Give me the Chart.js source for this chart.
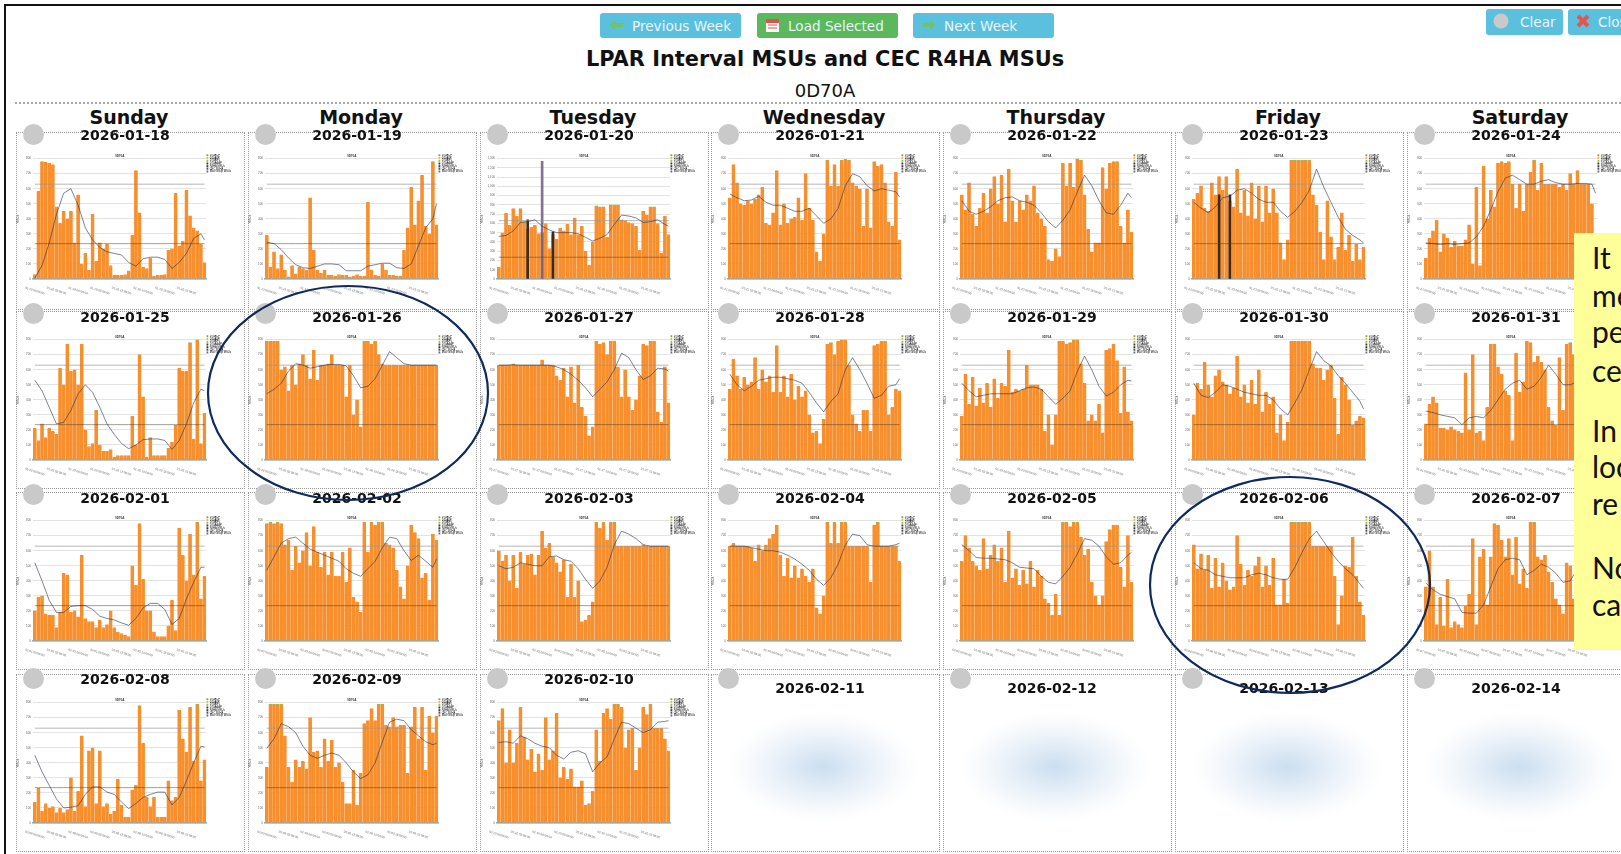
<!DOCTYPE html>
<html>
<head>
<meta charset="utf-8">
<title>LPAR Interval MSUs and CEC R4HA MSUs</title>
<script src="https://cdn.jsdelivr.net/npm/chart.js@4"></script>
<style>
  html, body { margin: 0; padding: 0; width: 1621px; height: 854px; overflow: hidden; background: #fff; font-family: "DejaVu Sans", sans-serif; color: #111; }
  .abs { position: absolute; }
  .frame-top { left: 5px; top: 4px; width: 1616px; height: 2px; background: #111; }
  .frame-left { left: 4px; top: 4px; width: 2px; height: 850px; background: #111; }
  .rule { left: 15px; top: 102px; width: 1606px; border-top: 2px dotted #aaa; }
  .btn { border-radius: 3px; color: #e8f6fb; font-size: 13.6px; height: 25px; line-height: 26px; white-space: nowrap; overflow: hidden; }
  .btn svg { position: absolute; left: 7px; top: 4px; }
  .blue { background: #5bc0de; }
  .green { background: #5cb85c; }
  .title { left: 0; width: 1650px; top: 47px; text-align: center; font-weight: bold; font-size: 20.9px; }
  .lpar { left: 0; width: 1650px; top: 80px; text-align: center; font-size: 18px; }
  .day { width: 232px; text-align: center; font-weight: bold; font-size: 19px; }
  .cell { width: 227px; height: 176px; border: 1px dotted #999; }
  .date { width: 232px; text-align: center; font-weight: bold; font-size: 14px; z-index: 2; }
  .dot { width: 21px; height: 21px; border-radius: 50%; background: #c9c9c9; z-index: 2; }
  .empty { width: 190px; height: 110px; background: radial-gradient(ellipse closest-side, #cbdef0 0%, #e3edf7 40%, #f6f9fc 75%, #fff 100%); }
  canvas { position: absolute; filter: blur(0.35px); }
  .note { left: 1574px; top: 233px; width: 100px; height: 417px; background: #ffff99; z-index: 4; font-family: Lato, sans-serif; font-size: 30px; color: #111; }
  .note div { position: absolute; left: 18px; }
  svg.rings { position: absolute; left: 0; top: 0; z-index: 3; }
</style>
</head>
<body>
<div class="abs frame-top"></div>
<div class="abs frame-left"></div>

<div class="abs btn blue" style="left:600px;top:13px;width:141px;padding-left:32px;box-sizing:border-box"><svg width="18" height="16"><path d="M2 8 L8 3 V6 H16 V10 H8 V13 Z" fill="#6fc36f"/></svg>Previous Week</div>
<div class="abs btn green" style="left:757px;top:13px;width:141px;padding-left:31px;box-sizing:border-box"><svg width="18" height="17"><rect x="2" y="2" width="13" height="13" fill="#fff"/><rect x="2" y="2" width="13" height="4" fill="#d9534f"/><path d="M4 8h9M4 11h9" stroke="#d9534f"/></svg>Load Selected</div>
<div class="abs btn blue" style="left:913px;top:13px;width:141px;padding-left:31px;box-sizing:border-box"><svg width="18" height="16"><path d="M16 8 L10 3 V6 H2 V10 H10 V13 Z" fill="#6fc36f"/></svg>Next Week</div>
<div class="abs btn blue" style="left:1486px;top:9px;width:77px;height:26px;padding-left:34px;box-sizing:border-box"><svg width="18" height="18"><circle cx="8" cy="8" r="7.5" fill="#c9c9c9"/></svg>Clear</div>
<div class="abs btn blue" style="left:1568px;top:9px;width:70px;height:26px;padding-left:30px;box-sizing:border-box"><svg width="18" height="18"><path d="M3 3 L13 13 M13 3 L3 13" stroke="#e2574c" stroke-width="4"/></svg>Close</div>

<div class="abs title">LPAR Interval MSUs and CEC R4HA MSUs</div>
<div class="abs lpar">0D70A</div>
<div class="abs rule"></div>

<div class="abs note" id="note"></div>
<svg class="rings" width="1621" height="854">
  <ellipse cx="348" cy="393" rx="140" ry="107" fill="none" stroke="#0f2a5c" stroke-width="2.2"/>
  <ellipse cx="1290" cy="585" rx="140" ry="108" fill="none" stroke="#0f2a5c" stroke-width="2.2"/>
</svg>

<script>
const dayNames = ["Sunday", "Monday", "Tuesday", "Wednesday", "Thursday", "Friday", "Saturday"];
const emptyDates = ["2026-02-11", "2026-02-12", "2026-02-13", "2026-02-14"];
const noteLines = [["It", 239], ["me", 277], ["pe", 313], ["ce", 352], ["In", 412], ["loc", 448], ["re", 485], ["No", 549], ["ca", 586]];
const legendNames = ["D70ACP", "D70AIIP", "D70AIFL", "D70AAAP", "R4HA MSUs", "CEC R4HA", "Max Group MSUs"];

const intervals = [
  "00:00","00:30","01:00","01:30","02:00","02:30","03:00","03:30","04:00","04:30","05:00","05:30",
  "06:00","06:30","07:00","07:30","08:00","08:30","09:00","09:30","10:00","10:30","11:00","11:30",
  "12:00","12:30","13:00","13:30","14:00","14:30","15:00","15:30","16:00","16:30","17:00","17:30",
  "18:00","18:30","19:00","19:30","20:00","20:30","21:00","21:30","22:00","22:30","23:00","23:30"
];
const ticks800 = 100;
const cecR4ha = 235;
const maxR4ha = 630;

// interval MSUs (half hours) and R4HA (hourly, last one is end of day), one pair per day
const bars0118 = [30,585,780,775,770,760,480,370,450,400,450,240,560,100,170,60,430,120,240,200,230,90,25,25,25,30,55,290,720,440,80,70,140,20,25,25,30,190,200,570,220,250,590,420,340,320,230,110];
const r4ha0118 = [5,90,240,430,570,600,490,340,260,210,180,170,160,110,85,135,145,145,130,70,110,170,270,300,260];
const bars0119 = [290,80,180,70,160,60,15,90,35,80,70,60,540,190,60,40,60,25,25,20,30,25,25,15,20,30,20,20,510,60,25,20,100,60,25,25,20,20,190,340,610,360,520,690,350,300,780,360];
const r4ha0119 = [245,235,195,140,95,75,70,85,100,100,95,55,55,55,85,95,105,105,75,70,100,220,340,400,500];
const bars0120 = [130,500,710,580,760,680,760,620,540,560,580,490,500,600,330,480,430,550,520,590,480,660,480,570,300,150,400,790,780,780,450,800,800,800,640,630,610,600,570,310,730,690,780,780,600,280,680,480];
const r4ha0120 = [460,470,520,610,620,640,570,530,500,500,500,490,450,410,440,480,590,690,680,660,610,620,640,590,570];
const dark0120 = [null,null,null,null,null,null,null,null,640,null,null,null,1270,null,null,510,null,null,null,null,null,null,null,null,null,null,null,null,null,null,null,null,null,null,null,null,null,null,null,null,null,null,null,null,null,null,null,null];
const bars0121 = [540,760,640,500,490,520,500,530,560,610,370,360,440,720,360,500,370,400,410,540,390,700,470,390,180,120,300,790,620,760,620,790,795,790,640,620,600,350,600,340,780,750,760,640,380,350,710,260];
const r4ha0121 = [565,540,520,525,550,510,490,490,470,450,450,470,420,370,400,470,620,700,680,620,585,600,590,580,545];
const bars0122 = [560,460,640,430,350,470,570,440,600,680,500,690,380,730,520,380,520,460,560,520,620,440,400,350,130,120,200,150,770,620,770,610,800,790,560,330,180,240,240,740,600,770,780,780,350,240,460,310];
const r4ha0122 = [520,450,430,450,480,520,540,545,520,510,490,440,380,340,390,460,580,690,620,520,440,430,490,570,540];
const bars0123 = [530,570,620,470,450,640,560,680,590,680,520,480,730,440,590,420,640,400,620,380,620,440,600,440,240,130,260,790,790,790,790,790,790,560,490,310,130,520,280,130,210,440,190,290,120,230,130,210];
const r4ha0123 = [510,470,440,480,540,550,590,600,570,530,510,510,450,410,450,510,590,730,610,510,410,330,290,260,240];
const dark0123 = [null,null,null,null,null,null,null,560,null,null,560,null,null,null,null,null,null,null,null,null,null,null,null,null,null,null,null,null,null,null,null,null,null,null,null,null,null,null,null,null,null,null,null,null,null,null,null,null];
const bars0124 = [140,270,320,390,180,300,270,210,250,220,220,260,360,100,610,90,750,400,590,480,770,780,770,780,630,470,630,450,630,710,790,590,770,630,630,630,630,610,630,590,700,630,720,630,630,630,500,0];
const r4ha0124 = [240,235,230,235,230,235,240,280,350,460,580,670,690,660,630,630,650,660,640,630,630,635,635,630,570];

const bars0125 = [210,130,240,150,210,190,170,610,500,770,590,600,500,770,200,90,110,330,100,60,60,70,20,30,30,30,30,290,100,700,420,20,150,30,30,30,30,80,120,230,610,590,590,780,140,800,110,310];
const r4ha0125 = [530,460,350,240,250,330,440,500,450,350,240,170,110,75,100,135,140,140,130,70,130,240,380,470,460];
const bars0126 = [790,790,790,790,600,620,460,630,500,640,700,630,540,730,530,630,630,640,700,630,630,630,420,630,300,400,220,790,790,770,790,700,640,630,630,630,630,630,630,630,630,630,630,630,630,630,630,630];
const r4ha0126 = [440,470,510,590,640,630,610,620,630,635,635,625,560,480,490,540,630,720,680,640,630,630,630,630,630];
const bars0127 = [630,630,630,630,640,630,630,630,630,630,630,630,665,630,630,630,560,530,610,420,620,380,630,350,290,160,220,790,770,780,700,790,790,620,420,600,420,330,400,560,770,760,790,790,320,250,620,380];
const r4ha0127 = [630,630,632,630,630,630,630,630,620,600,570,530,480,420,470,520,600,710,680,600,535,560,610,605,590];
const bars0128 = [470,670,560,470,550,500,520,680,470,600,520,560,450,760,450,560,420,570,400,490,420,460,300,180,190,110,270,770,780,700,790,800,800,630,300,240,190,330,330,190,760,770,790,790,300,350,470,460];
const r4ha0128 = [570,500,460,490,530,540,550,550,540,530,510,450,380,320,390,440,600,680,600,510,410,430,490,500,540];
const bars0129 = [290,570,370,550,360,480,380,510,350,540,410,510,490,730,450,470,460,470,630,500,500,500,470,190,300,100,300,790,790,770,780,800,800,640,510,260,300,260,370,180,730,740,770,660,310,620,320,260];
const r4ha0129 = [510,460,420,430,440,440,440,440,460,480,485,470,420,370,410,460,590,690,600,490,425,450,500,530,525];
const bars0130 = [300,510,470,650,500,420,560,600,520,500,440,480,690,420,500,380,530,370,600,320,450,370,420,180,300,130,250,790,790,790,790,790,790,640,610,610,530,600,630,410,170,550,500,400,230,260,290,280];
const r4ha0130 = [510,430,415,450,500,490,470,450,440,430,430,400,340,300,380,470,600,720,660,625,560,510,450,390,340];
const bars0131 = [240,370,420,380,210,210,200,220,200,190,180,580,200,700,180,190,130,350,770,770,620,570,460,430,130,710,450,520,790,780,650,690,650,600,350,260,230,680,330,770,780,700,600,640,500,520,480,600];
const r4ha0131 = [325,315,300,290,280,235,280,290,280,330,400,470,510,530,470,490,550,630,570,500,500,520,560,570,560];

const bars0201 = [200,290,300,180,170,170,90,190,450,440,190,200,160,570,150,130,130,90,140,90,110,200,90,60,50,40,30,500,370,780,410,200,200,60,30,30,30,100,270,70,750,570,400,710,440,790,280,430];
const r4ha0201 = [520,400,270,190,190,230,235,235,210,165,150,140,120,105,150,220,250,250,210,110,150,280,390,490,490];
const bars0202 = [780,790,780,790,780,640,670,470,630,520,600,720,500,760,590,490,590,440,590,430,430,590,390,620,290,260,190,790,590,790,770,790,790,650,640,620,470,360,280,500,770,720,680,420,450,270,710,670];
const r4ha0202 = [470,560,650,680,690,650,610,590,570,550,530,480,450,430,480,530,620,690,680,600,535,570,530,490,545];
const bars0203 = [600,530,570,400,570,350,590,510,570,580,440,570,730,620,650,560,520,460,540,290,510,290,400,130,140,170,260,790,750,790,670,790,790,630,630,630,630,630,630,630,640,630,630,630,630,630,630,630];
const r4ha0203 = [500,480,490,520,510,500,500,560,565,540,530,480,410,350,400,490,640,730,710,680,640,630,630,630,630];
const bars0204 = [630,650,630,630,630,630,620,530,640,600,640,680,710,770,570,430,550,420,500,420,480,430,390,480,220,180,300,790,650,790,650,790,790,630,630,630,630,630,630,390,770,790,630,630,630,630,630,530];
const r4ha0204 = [630,630,630,620,610,600,600,590,570,545,510,470,410,370,420,510,640,710,700,640,630,630,630,640,650];
const bars0205 = [530,700,620,530,500,470,680,480,570,640,530,620,390,730,420,480,370,470,380,530,360,470,430,280,250,170,310,170,790,790,760,790,790,690,570,610,390,300,240,300,660,740,770,770,490,360,700,390];
const r4ha0205 = [640,600,555,550,550,545,540,520,490,485,480,430,390,380,430,490,580,680,670,630,560,510,520,570,590];
const bars0206 = [640,480,580,470,570,350,550,360,520,400,340,360,700,510,370,470,430,500,560,360,500,370,550,240,240,410,250,790,790,790,790,790,790,630,630,630,630,630,630,430,110,300,500,490,690,430,260,170];
const r4ha0206 = [520,480,470,440,430,420,420,420,440,450,440,420,410,410,490,590,680,730,660,590,530,480,440,380,350];
const bars0207 = [360,600,360,110,290,100,410,90,130,110,90,230,310,680,110,560,610,240,560,780,770,670,560,680,440,690,380,480,350,790,790,560,540,570,460,390,280,240,180,520,500,280,600,780,770,600,700,700];
const r4ha0207 = [385,340,310,295,280,190,185,185,240,360,480,540,550,540,440,470,510,490,450,390,400,480,530,550,550];

const bars0208 = [140,230,80,130,100,110,70,100,70,90,300,80,210,580,110,480,500,130,480,110,130,60,80,290,120,40,40,220,250,780,530,170,110,170,40,40,40,280,150,170,750,560,470,770,410,790,280,420];
const r4ha0208 = [450,340,250,160,100,105,115,190,240,240,205,190,140,95,130,170,190,205,205,120,170,280,400,510,505];
const bars0209 = [370,790,790,790,790,580,370,270,420,370,410,360,700,470,480,370,560,410,550,370,400,270,130,130,350,120,330,660,680,760,680,790,790,650,640,700,640,650,650,330,640,770,560,770,350,710,600,710];
const r4ha0209 = [495,560,660,640,600,510,450,430,450,465,450,400,340,295,320,400,540,670,690,680,620,580,540,520,530];
const bars0210 = [680,760,400,620,400,530,770,570,420,490,340,460,350,700,420,480,730,300,370,290,360,240,240,280,120,130,210,620,410,730,760,690,790,790,770,500,620,630,350,500,770,720,790,630,630,630,560,480];
const r4ha0210 = [535,540,530,580,560,530,510,500,450,425,470,480,460,340,400,440,560,670,660,630,600,620,670,675,680];

const dayCharts = [
  { date: "2026-01-18", bars: bars0118, r4ha: r4ha0118 },
  { date: "2026-01-19", bars: bars0119, r4ha: r4ha0119 },
  { date: "2026-01-20", bars: bars0120, r4ha: r4ha0120, dark: dark0120, yMax: 1300 },
  { date: "2026-01-21", bars: bars0121, r4ha: r4ha0121 },
  { date: "2026-01-22", bars: bars0122, r4ha: r4ha0122 },
  { date: "2026-01-23", bars: bars0123, r4ha: r4ha0123, dark: dark0123 },
  { date: "2026-01-24", bars: bars0124, r4ha: r4ha0124 },
  { date: "2026-01-25", bars: bars0125, r4ha: r4ha0125 },
  { date: "2026-01-26", bars: bars0126, r4ha: r4ha0126 },
  { date: "2026-01-27", bars: bars0127, r4ha: r4ha0127 },
  { date: "2026-01-28", bars: bars0128, r4ha: r4ha0128 },
  { date: "2026-01-29", bars: bars0129, r4ha: r4ha0129 },
  { date: "2026-01-30", bars: bars0130, r4ha: r4ha0130 },
  { date: "2026-01-31", bars: bars0131, r4ha: r4ha0131 },
  { date: "2026-02-01", bars: bars0201, r4ha: r4ha0201 },
  { date: "2026-02-02", bars: bars0202, r4ha: r4ha0202 },
  { date: "2026-02-03", bars: bars0203, r4ha: r4ha0203 },
  { date: "2026-02-04", bars: bars0204, r4ha: r4ha0204 },
  { date: "2026-02-05", bars: bars0205, r4ha: r4ha0205 },
  { date: "2026-02-06", bars: bars0206, r4ha: r4ha0206 },
  { date: "2026-02-07", bars: bars0207, r4ha: r4ha0207 },
  { date: "2026-02-08", bars: bars0208, r4ha: r4ha0208 },
  { date: "2026-02-09", bars: bars0209, r4ha: r4ha0209 },
  { date: "2026-02-10", bars: bars0210, r4ha: r4ha0210 },
];

const ORANGE = "#f78f2d";
const LINE = "rgba(40,50,75,0.6)";
const RULE = "rgba(70,60,50,0.5)";
const legendColors = ["#8aa05a", "#e0c040", "#9ab84a", "#3a3a3a", "#333", "#555", "#6a6a8a"];

const cellTops = [132, 311, 492, 674];
const plotTops = [158, 339, 520, 702];
const dateTops = [127, 309, 490, 671];
const colX = (c) => Math.round(16 + 231.8 * c);

function addDiv(cls, left, top, text) {
  const d = document.createElement("div");
  d.className = "abs " + cls;
  d.style.left = left + "px";
  d.style.top = top + "px";
  if (text) d.textContent = text;
  document.body.appendChild(d);
  return d;
}

// the R4HA is hourly, so the half hours stay empty and the line spans them
function hourlyOnSlots(values) {
  const out = intervals.map(() => null);
  values.forEach((v, h) => { out[Math.min(h * 2, intervals.length - 1)] = v; });
  return out;
}

function makeChart(day, left, top) {
  const canvas = document.createElement("canvas");
  canvas.width = 232;
  canvas.height = 150;
  canvas.style.left = left + "px";
  canvas.style.top = top + "px";
  document.body.appendChild(canvas);

  const mmdd = day.date.slice(5);
  const datasets = [
    { type: "line", label: "R4HA MSUs", data: hourlyOnSlots(day.r4ha), stack: "r4ha", borderColor: LINE, borderWidth: 1, pointRadius: 0, spanGaps: true, order: 0 },
    { type: "line", label: "CEC R4HA", data: intervals.map(() => cecR4ha), stack: "cec", borderColor: RULE, borderWidth: 1, pointRadius: 0, order: 1 },
    { type: "line", label: "Max R4HA MSUs", data: intervals.map(() => maxR4ha), stack: "max", borderColor: "rgba(150,150,150,0.7)", borderWidth: 1, pointRadius: 0, order: 1 },
    {
      type: "bar", label: "Interval MSUs", data: day.bars, stack: "main", order: 3,
      backgroundColor: ORANGE, barPercentage: 1, categoryPercentage: 1, inflateAmount: 0.3,
      borderWidth: { top: 1 }, borderColor: (c) => (c.raw >= 780 ? "#a8b04a" : ORANGE),
    },
  ];
  if (day.dark) {
    datasets.push({
      type: "bar", label: "Other", data: day.dark, stack: "dark", grouped: false, barThickness: 2, order: 2,
      backgroundColor: (c) => (c.raw > 900 ? "rgba(110,90,130,0.85)" : "#3a2a20"),
    });
  }

  new Chart(canvas, {
    data: { labels: intervals, datasets },
    options: {
      responsive: false,
      animation: false,
      devicePixelRatio: 1,
      layout: { padding: { top: 5, right: 7 } },
      plugins: {
        title: { display: true, text: "0D70A", font: { size: 3, weight: "bold" }, color: "#333", fullSize: false, padding: { top: 0, bottom: 1 } },
        tooltip: { enabled: false },
        legend: {
          position: "right",
          align: "start",
          labels: {
            boxWidth: 2,
            boxHeight: 2,
            padding: 0,
            font: { size: 2.7 },
            color: "#777",
            generateLabels: () => legendNames.map((text, i) => ({ text, fillStyle: legendColors[i], strokeStyle: legendColors[i], lineWidth: 0 })),
          },
        },
      },
      scales: {
        x: {
          stacked: true,
          grid: { display: false },
          border: { color: "#7fb0cc", width: 1.5 },
          afterDataLimits: (s) => { s._getXAxisLabelAlignment = () => "center"; },
          afterFit: (s) => { s.height = 20; s.paddingLeft = 0; s.paddingRight = 0; },
          ticks: {
            autoSkip: false,
            minRotation: -18,
            maxRotation: -18,
            padding: 2,
            font: { size: 3 },
            color: "#666",
            callback: (v, i) => (i % 6 === 0 ? `${mmdd} ${intervals[i]}:00` : ""),
          },
        },
        y: {
          stacked: true,
          min: 0,
          max: day.yMax || 800,
          afterFit: (s) => { s.width = 17; s.paddingTop = 0; s.paddingBottom = 0; },
          grid: { color: "#e3e3e3", lineWidth: 1, drawTicks: false },
          border: { display: false },
          title: { display: true, text: "MSUs", font: { size: 3 }, color: "#555", padding: 0 },
          ticks: { stepSize: ticks800, font: { size: 3 }, color: "#666", padding: 2 },
        },
      },
    },
  });
}

dayNames.forEach((name, c) => addDiv("day", colX(c) - 3, 106, name));

for (let r = 0; r < 4; r++) {
  for (let c = 0; c < 7; c++) {
    const idx = r * 7 + c;
    const x = colX(c);
    addDiv("cell", x, cellTops[r]);
    addDiv("dot", x + 7, cellTops[r] - 8 + (r === 3 ? 2 : 0));
    const day = dayCharts[idx];
    if (day) {
      addDiv("date", x - 7, dateTops[r], day.date);
      makeChart(day, x, plotTops[r] - 9);
    } else {
      addDiv("date", x - 7, dateTops[r] + 9, emptyDates[idx - dayCharts.length]);
      addDiv("empty", x + 17, 712);
    }
  }
}

const note = document.getElementById("note");
noteLines.forEach(([text, y]) => {
  const d = document.createElement("div");
  d.textContent = text;
  d.style.top = (y - 233) + "px";
  note.appendChild(d);
});
</script>
</body>
</html>
